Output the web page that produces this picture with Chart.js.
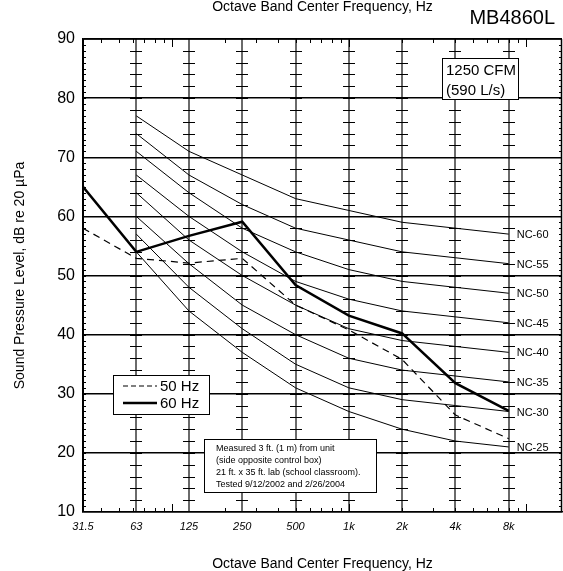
<!DOCTYPE html>
<html>
<head>
<meta charset="utf-8">
<script src="https://cdn.jsdelivr.net/npm/chart.js@4.4.1/dist/chart.umd.min.js"></script>
<style>
  html, body { margin: 0; padding: 0; background: #fff; }
  #caja { width: 563px; height: 571px; }
</style>
</head>
<body>
<div id="caja"><canvas id="graficaNC" width="563" height="571"></canvas></div>
<script>
// Frecuencias de banda de octava y sus etiquetas
var frecuencias = [31.5, 63, 125, 250, 500, 1000, 2000, 4000, 8000];
var etiquetasX = ['31.5', '63', '125', '250', '500', '1k', '2k', '4k', '8k'];
var ticksY = [10, 20, 30, 40, 50, 60, 70, 80, 90];

// Niveles medidos (dB)
var nivel60Hz = [65, 54, 56.7, 59.1, 48.4, 43.2, 40.2, 31.8, 27.1];
var nivel50Hz = [58, 52.9, 52.1, 52.9, 45, 40.8, 35.8, 26.4, 22.4];

// Curvas NC, de 63 Hz a 8 kHz
var frecuenciasNC = [63, 125, 250, 500, 1000, 2000, 4000, 8000];
var nombresNC = ['NC-60', 'NC-55', 'NC-50', 'NC-45', 'NC-40', 'NC-35', 'NC-30', 'NC-25'];
var nc60 = [77, 71, 67, 63, 61, 59, 58, 57];
var nc55 = [74, 67, 62, 58, 56, 54, 53, 52];
var nc50 = [71, 64, 58, 54, 51, 49, 48, 47];
var nc45 = [67, 60, 54, 49, 46, 44, 43, 42];
var nc40 = [64, 56, 50, 45, 41, 39, 38, 37];
var nc35 = [60, 52, 45, 40, 36, 34, 33, 32];
var nc30 = [57, 48, 41, 35, 31, 29, 28, 27];
var nc25 = [54, 44, 37, 31, 27, 24, 22, 21];

var FUENTE = '"Liberation Sans", Arial, sans-serif';

function puntos(xs, ys) {
    return ys.map(function (v, i) { return { x: xs[i], y: v }; });
}

var datasets = [];
[nc60, nc55, nc50, nc45, nc40, nc35, nc30, nc25].forEach(function (serie, i) {
    datasets.push({
        label: nombresNC[i],
        data: puntos(frecuenciasNC, serie),
        borderColor: '#000',
        borderWidth: 1,
        pointRadius: 0,
        esNC: true
    });
});
datasets.push({
    label: '50 Hz',
    data: puntos(frecuencias, nivel50Hz),
    borderColor: '#000',
    borderWidth: 1.2,
    borderDash: [7, 5],
    pointRadius: 0
});
datasets.push({
    label: '60 Hz',
    data: puntos(frecuencias, nivel60Hz),
    borderColor: '#000',
    borderWidth: 2.5,
    pointRadius: 0
});

// Dibujos extra: cruces de la rejilla, ticks menores, cajas de texto
var decoracion = {
    id: 'decoracion',
    beforeDatasetsDraw: function (chart) {
        var ctx = chart.ctx, a = chart.chartArea;
        var sx = chart.scales.x, sy = chart.scales.y;
        ctx.save();
        ctx.strokeStyle = '#000';
        ctx.lineWidth = 1;
        // cruces cada 2 dB sobre las lineas de octava
        frecuencias.slice(1).forEach(function (f) {
            var px = Math.round(sx.getPixelForValue(f));
            for (var d = 12; d < 90; d += 2) {
                var py = Math.round(sy.getPixelForValue(d)) + 0.5;
                ctx.beginPath();
                ctx.moveTo(px - 6, py);
                ctx.lineTo(px + 6, py);
                ctx.stroke();
            }
        });
        // ticks menores cada 1 dB a izquierda y derecha
        for (var d = 11; d < 90; d++) {
            var py = Math.round(sy.getPixelForValue(d)) + 0.5;
            ctx.beginPath();
            ctx.moveTo(a.left, py); ctx.lineTo(a.left + 3, py);
            ctx.moveTo(a.right, py); ctx.lineTo(a.right - 3, py);
            ctx.stroke();
        }
        // ticks logaritmicos arriba y abajo
        [10, 100, 1000, 10000].forEach(function (dec) {
            for (var k = 1; k < 10; k++) {
                var f = dec * k;
                if (f <= 31.5 || f >= 16000) continue;
                var px = Math.round(sx.getPixelForValue(f)) + 0.5;
                var largo = k === 1 ? 8 : 4;
                ctx.beginPath();
                ctx.moveTo(px, a.top); ctx.lineTo(px, a.top + largo);
                ctx.moveTo(px, a.bottom); ctx.lineTo(px, a.bottom - largo);
                ctx.stroke();
            }
        });
        // bordes derecho y superior
        ctx.lineWidth = 1.5;
        ctx.beginPath();
        ctx.moveTo(a.right - 0.5, a.top); ctx.lineTo(a.right - 0.5, a.bottom);
        ctx.moveTo(a.left, a.top); ctx.lineTo(a.right, a.top);
        ctx.stroke();
        ctx.restore();
    },
    afterDatasetsDraw: function (chart) {
        var ctx = chart.ctx, a = chart.chartArea;
        ctx.save();
        ctx.fillStyle = '#000';
        ctx.textBaseline = 'middle';

        // etiquetas NC al final de cada curva
        ctx.font = '11px ' + FUENTE;
        ctx.textAlign = 'left';
        chart.data.datasets.forEach(function (ds, i) {
            if (!ds.esNC) return;
            var ult = chart.getDatasetMeta(i).data[ds.data.length - 1];
            ctx.fillText(ds.label, ult.x + 8, ult.y + 1);
        });

        // modelo
        ctx.font = '20px ' + FUENTE;
        ctx.textAlign = 'right';
        ctx.fillText('MB4860L', a.right - 7, 18);

        // caja de caudal
        ctx.fillStyle = '#fff';
        ctx.fillRect(442, 58, 76, 41);
        ctx.strokeStyle = '#000';
        ctx.lineWidth = 1;
        ctx.strokeRect(442.5, 58.5, 76, 41);
        ctx.fillStyle = '#000';
        ctx.textAlign = 'left';
        ctx.font = '15px ' + FUENTE;
        ctx.fillText('1250 CFM', 446, 71);
        ctx.fillText('(590 L/s)', 446, 91);

        // leyenda
        ctx.fillStyle = '#fff';
        ctx.fillRect(113, 375, 96, 39);
        ctx.strokeRect(113.5, 375.5, 96, 39);
        var filas = [chart.data.datasets[datasets.length - 2], chart.data.datasets[datasets.length - 1]];
        filas.forEach(function (ds, j) {
            var yy = 386 + j * 17;
            ctx.strokeStyle = ds.borderColor;
            ctx.lineWidth = ds.borderWidth;
            ctx.setLineDash(ds.borderDash ? [5, 3] : []);
            ctx.beginPath();
            ctx.moveTo(123, yy); ctx.lineTo(157, yy);
            ctx.stroke();
            ctx.setLineDash([]);
            ctx.fillStyle = '#000';
            ctx.font = '15px ' + FUENTE;
            ctx.fillText(ds.label, 160, yy + 1);
        });

        // nota de ensayo
        ctx.fillStyle = '#fff';
        ctx.fillRect(204, 439, 172, 53);
        ctx.strokeStyle = '#000';
        ctx.lineWidth = 1;
        ctx.strokeRect(204.5, 439.5, 172, 53);
        ctx.fillStyle = '#000';
        ctx.font = '9px ' + FUENTE;
        ['Measured 3 ft. (1 m) from unit',
         '(side opposite control box)',
         '21 ft. x 35 ft. lab (school classroom).',
         'Tested 9/12/2002 and 2/26/2004'].forEach(function (t, j) {
            ctx.fillText(t, 216, 449 + j * 12);
        });
        ctx.restore();
    }
};

var ctx = document.getElementById('graficaNC').getContext('2d');
var grafica = new Chart(ctx, {
    type: 'line',
    data: { datasets: datasets },
    plugins: [decoracion],
    options: {
        responsive: false,
        animation: false,
        devicePixelRatio: 1,
        layout: { padding: { right: 1, top: 0, bottom: 0, left: 0 } },
        plugins: { legend: { display: false }, tooltip: { enabled: false } },
        elements: { line: { tension: 0 } },
        scales: {
            x: {
                type: 'logarithmic',
                position: 'bottom',
                min: 31.5,
                max: 16000,
                afterBuildTicks: function (s) {
                    s.ticks = frecuencias.map(function (f) { return { value: f }; });
                },
                afterFit: function (s) { s.height = 59; },
                ticks: {
                    autoSkip: false,
                    maxRotation: 0,
                    padding: 8,
                    color: '#000',
                    font: { family: FUENTE, size: 11, style: 'italic' },
                    callback: function (v, i) { return etiquetasX[i]; }
                },
                grid: {
                    drawTicks: false,
                    color: function (c) { return c.index === 0 ? '#000' : '#6a6a6a'; },
                    lineWidth: 2
                },
                border: { display: true, color: '#000', width: 1.5 },
                title: {
                    display: true,
                    text: 'Octave Band Center Frequency, Hz',
                    color: '#000',
                    padding: { top: 0, bottom: 0 },
                    font: { family: FUENTE, size: 14, lineHeight: 1 }
                }
            },
            xArriba: {
                type: 'logarithmic',
                position: 'top',
                min: 31.5,
                max: 16000,
                afterFit: function (s) { s.height = 39; },
                ticks: { display: false },
                grid: { display: false },
                border: { display: false },
                title: {
                    display: true,
                    text: 'Octave Band Center Frequency, Hz',
                    color: '#000',
                    padding: { top: 0, bottom: 0 },
                    font: { family: FUENTE, size: 14, lineHeight: 1 }
                }
            },
            y: {
                type: 'linear',
                min: 10,
                max: 90,
                afterBuildTicks: function (s) {
                    s.ticks = ticksY.map(function (v) { return { value: v }; });
                },
                afterFit: function (s) { s.width = 83; },
                ticks: {
                    padding: 8,
                    color: '#000',
                    font: { family: FUENTE, size: 16 }
                },
                grid: { drawTicks: false, color: '#000', lineWidth: 1.5 },
                border: { display: true, color: '#000', width: 1.5 },
                title: {
                    display: true,
                    text: 'Sound Pressure Level, dB re 20 \u00b5Pa',
                    color: '#000',
                    padding: { top: 12, bottom: 0 },
                    font: { family: FUENTE, size: 14 }
                }
            }
        }
    }
});
</script>
</body>
</html>
